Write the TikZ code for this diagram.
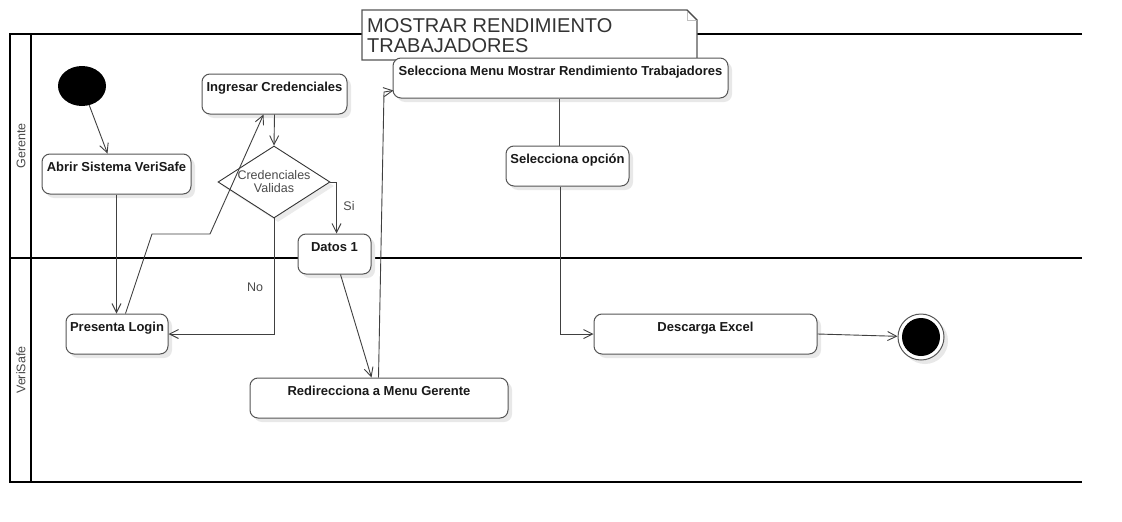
\documentclass[tikz,border=0pt]{standalone}
\usepackage{fontspec}
\setmainfont{Liberation Sans}
\usetikzlibrary{arrows.meta,shapes.geometric,shadows,calc}
\definecolor{edge}{HTML}{555555}
\definecolor{lbl}{HTML}{4a4a4a}
\begin{document}
\begin{tikzpicture}[x=1pt,y=-1pt,
  act/.style={draw=edge, line width=1pt, rounded corners=8pt, fill=white,
    inner xsep=0pt, inner ysep=0pt, text height=17.5pt, text depth=22.5pt,
    font=\bfseries\fontsize{13}{15}\selectfont, text=black!90,
    drop shadow={shadow xshift=4pt, shadow yshift=-4pt, fill=black!9, opacity=1}},
  flow/.style={draw=black!75, line width=0.9pt, -{Straight Barb[length=9pt,width=9pt]}},
  plain/.style={draw=black!70, line width=1pt},
  lane/.style={draw=black, line width=2.2pt},
  small/.style={font=\fontsize{12.5}{13}\selectfont, text=lbl, inner sep=0pt},
]
\useasboundingbox (0,0) rectangle (1122,522);
\fill[white] (0,0) rectangle (1122,522);

% swimlanes
\draw[lane] (1082,34) -- (10,34) -- (10,482) -- (1082,482);
\draw[lane] (31,34) -- (31,482);
\draw[lane] (10,258) -- (1082,258);
\node[small, rotate=90] (gerente) at (21,146) {Gerente};
\node[small, rotate=90] (verisafe) at (21,370) {VeriSafe};

% title note
\draw[edge, line width=1.3pt, fill=white] (362,10) -- (687,10) -- (697,20) -- (697,60) -- (362,60) -- cycle;
\draw[black!25, line width=0.8pt] (687,10) -- (687,20) -- (697,20);
\draw[black!70, line width=0.8pt] (687,10) -- (697,20);
\node[anchor=north west, align=left, inner sep=0pt, text=black!80,
  font=\fontsize{20}{20}\selectfont] (title) at (367,18.5) {MOSTRAR RENDIMIENTO\\TRABAJADORES};

% nodes
\node[ellipse, fill=black, minimum width=48pt, minimum height=40pt, inner sep=0pt] (start) at (82,86) {};
\node[act, minimum width=149pt] (abrir) at (116.5,174) {Abrir Sistema VeriSafe};
\node[act, minimum width=145pt] (ingresar) at (274.5,94) {Ingresar Credenciales};
\node[diamond, draw=black!80, line width=0.9pt, fill=white, aspect=1.556, inner sep=-1.5pt,
  minimum width=112pt, minimum height=72pt, align=center,
  drop shadow={shadow xshift=4pt, shadow yshift=-4pt, fill=black!8, opacity=1},
  font=\fontsize{12.5}{13}\selectfont, text=lbl] (dia) at (274,182) {Credenciales\\Validas};
\node[act, minimum width=73pt] (datos) at (334.5,254) {Datos 1};
\node[act, minimum width=335pt] (menu) at (560.5,78) {Selecciona Menu Mostrar Rendimiento Trabajadores};
\node[act, minimum width=123pt] (opcion) at (567.5,166) {Selecciona opción};
\node[act, minimum width=102pt] (login) at (117,334) {Presenta Login};
\node[act, minimum width=258pt] (redir) at (379,398) {Redirecciona a Menu Gerente};
\node[act, minimum width=223pt] (descarga) at (705.5,334) {Descarga Excel};
\node[circle, draw=edge, line width=1pt, fill=white, minimum size=46pt, inner sep=0pt,
  drop shadow={shadow xshift=4pt, shadow yshift=-4pt, fill=black!9, opacity=1},
  path picture={\fill[black] (path picture bounding box.center) circle (19pt);}] (end) at (921,337) {};

% connectors
\draw[flow] (start) -- ($(abrir.north west)+(66,0)$);
\draw[flow] ($(abrir.south west)+(75,0)$) -- ($(login.north west)+(51,0)$);
\draw[flow] ($(login.north west)+(60,0)$) -- (152,234) -- (210,234) -- ($(ingresar.south west)+(62,0)$);
\draw[flow] (ingresar.south) -- (dia.north);
\draw[flow] (dia.east) -| ($(datos.north west)+(39,0)$);
\node[small] (si) at (349,206) {Si};
\draw[flow] (dia.south) |- (login.east);
\node[small] (no) at (255,287) {No};
\draw[flow] ($(datos.south west)+(43,0)$) -- ($(redir.north west)+(122,0)$);
\draw[flow] ($(redir.north west)+(129,0)$) -- (384,92) -- ($(menu.south west)+(1,-8)$);
\draw[plain] ($(menu.south west)+(167,0)$) -- ($(opcion.north west)+(54,0)$);
\draw[flow] ($(opcion.south west)+(55,0)$) |- (descarga.west);
\draw[flow] (descarga.east) -- (end);
\end{tikzpicture}
\end{document}
